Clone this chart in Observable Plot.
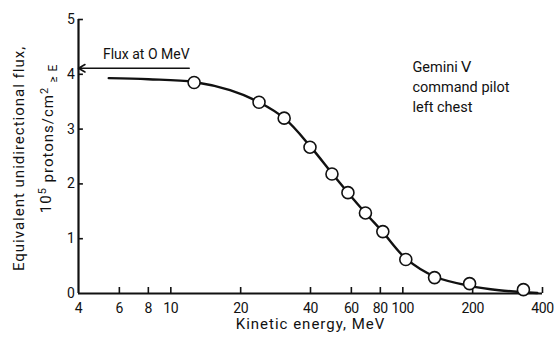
<!DOCTYPE html>
<html>
<head>
<meta charset="utf-8">
<script src="https://cdn.jsdelivr.net/npm/d3@7"></script>
<script src="https://cdn.jsdelivr.net/npm/@observablehq/plot@0.6"></script>
<style>
  html, body { margin: 0; padding: 0; background: #fff; }
  #chart svg { display: block; }
  #chart svg text { letter-spacing: 1px; }
</style>
</head>
<body>
<div id="chart"></div>
<script>
// Measured points (circles)
const energy = [12.6, 24, 30.8, 39.8, 49.5, 58, 69, 82, 103, 137, 194, 331];
const flux   = [3.85, 3.49, 3.2, 2.67, 2.18, 1.84, 1.47, 1.13, 0.62, 0.29, 0.18, 0.07];

// Fitted curve
const curveEnergy = [5.4, 8, 12.6, 18, 24, 31, 40, 50, 58, 69, 82, 103, 137, 194, 260, 380];
const curveFlux   = [3.93, 3.91, 3.86, 3.71, 3.49, 3.19, 2.68, 2.17, 1.84, 1.47, 1.12, 0.64, 0.31, 0.14, 0.06, 0.01];

// Flux at 0 MeV arrow
const flux0 = 4.11;
const flux0ArrowStart = 12;

const xTicks = [4, 6, 8, 10, 20, 40, 60, 80, 100, 200, 400];
const yTicks = [0, 1, 2, 3, 4, 5];

const xLabel = "Kinetic energy, MeV";
const yLabel1 = "Equivalent unidirectional flux,";
const yLabel2 = "10^5 protons/cm^2 \u2265 E";
const fluxLabel = "Flux at O MeV";
const noteLabel = "Gemini \u2164\ncommand pilot\nleft chest";

const points = energy.map((e, i) => ({e, f: flux[i]}));
const curve = curveEnergy.map((e, i) => ({e, f: curveFlux[i]}));

const font = "Roboto, 'Liberation Sans', sans-serif";
const ink = "#111";

const plot = Plot.plot({
  width: 556,
  height: 338,
  marginLeft: 78,
  marginRight: 14,
  marginTop: 19,
  marginBottom: 45,
  style: {fontFamily: font, fontSize: "14px", color: ink, background: "#fff"},
  x: {type: "log", domain: [4, 400], axis: null},
  y: {domain: [0, 5], axis: null},
  marks: [
    // inward tick marks
    Plot.ruleX(xTicks.slice(1), {x: d => d, y1: 0, y2: 0.11, strokeWidth: 1.6, stroke: ink}),
    Plot.ruleY(yTicks.slice(1), {y: d => d, x1: 4, x2: 4.2, strokeWidth: 1.6, stroke: ink}),
    // tick labels
    Plot.text(xTicks, {x: d => d, frameAnchor: "bottom", dy: 15, lineAnchor: "middle", text: d => String(d), fontSize: 14, className: "ticklab"}),
    Plot.text(yTicks, {y: d => d, frameAnchor: "left", textAnchor: "end", dx: -4, text: d => String(d), fontSize: 14, className: "ticklab"}),
    // axis lines
    Plot.ruleY([0], {strokeWidth: 2.2, stroke: ink}),
    Plot.ruleX([4], {strokeWidth: 2.2, stroke: ink}),
    // axis titles
    Plot.text([xLabel], {frameAnchor: "bottom", text: d => d, dy: 31, fontSize: 15, lineAnchor: "middle"}),
    Plot.text([yLabel1], {frameAnchor: "left", textAnchor: "middle", text: d => d, rotate: -90, dx: -59, dy: 2, fontSize: 15, lineAnchor: "middle"}),
    Plot.text([yLabel2], {frameAnchor: "left", textAnchor: "middle", text: d => d, rotate: -90, dx: -32, dy: -18, fontSize: 15, lineAnchor: "middle"}),
    // data
    Plot.line(curve, {x: "e", y: "f", curve: "catmull-rom", strokeWidth: 2.4, stroke: ink}),
    Plot.dot(points, {x: "e", y: "f", r: 6, fill: "white", stroke: ink, strokeWidth: 1.6}),
    Plot.arrow([{x1: flux0ArrowStart, x2: 4, y: flux0}], {x1: "x1", x2: "x2", y1: "y", y2: "y", headLength: 7, strokeWidth: 1.6, stroke: ink}),
    // annotations
    Plot.text([{x: 5.1, y: 4.36, t: fluxLabel}], {x: "x", y: "y", text: "t", textAnchor: "start", fontSize: 14}),
    Plot.text([{x: 110, y: 4.31, t: noteLabel}], {x: "x", y: "y", text: "t", textAnchor: "start", lineAnchor: "top", lineHeight: 1.4, fontSize: 14.5})
  ]
});

// superscripts on the second y-axis label line
d3.select(plot).selectAll("text").filter(function() { return this.textContent === yLabel2; }).each(function() {
  const t = d3.select(this);
  t.text(null);
  t.append("tspan").text("10");
  t.append("tspan").attr("dy", "-0.45em").attr("font-size", "11px").text("5");
  t.append("tspan").attr("dy", "0.45em").text(" protons/cm");
  t.append("tspan").attr("dy", "-0.45em").attr("font-size", "11px").text("2");
  t.append("tspan").attr("dy", "0.75em").attr("font-size", "12px").text(" \u2265 E");
});
d3.select(plot).selectAll("text").filter(function() { return this.textContent === fluxLabel || this.textContent.startsWith("Gemini"); }).style("letter-spacing", "0px");
d3.select(plot).selectAll(".ticklab text").style("letter-spacing", "-0.4px");

document.getElementById("chart").appendChild(plot);
</script>
</body>
</html>
